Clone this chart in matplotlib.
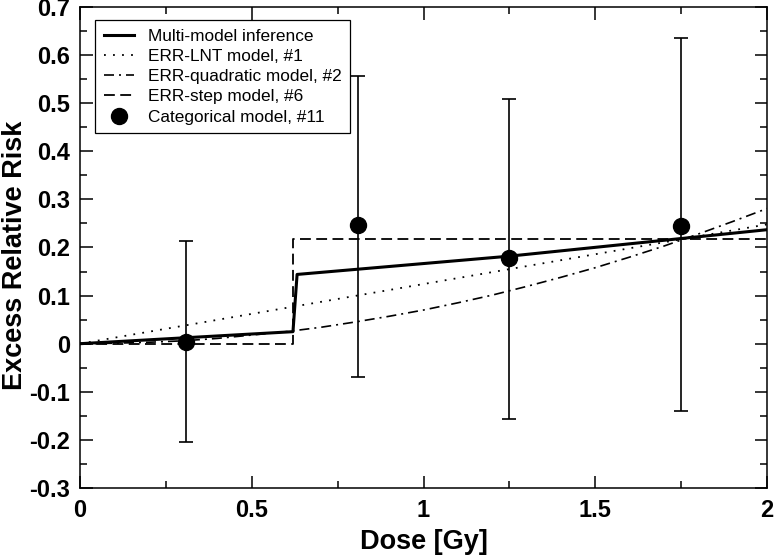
import numpy as np
import matplotlib
matplotlib.use("Agg")
import matplotlib.pyplot as plt
from matplotlib.ticker import MultipleLocator, FormatStrFormatter

plt.rcParams['font.family'] = ['Liberation Sans', 'DejaVu Sans']

# Multi-model inference (mit Sprung bei ~0.62 Gy)
mmi_dose = [0.0, 0.62, 0.632, 1.25, 2.0]
mmi_err = [0.0, 0.025, 0.144, 0.182, 0.237]

# ERR-LNT model, #1
lnt_dose = [0.0, 2.0]
lnt_err = [0.0, 0.248]

# ERR-quadratic model, #2
quad_dose = [0.0, 0.1, 0.2, 0.3, 0.4, 0.5, 0.6, 0.7, 0.8, 0.9, 1.0,
             1.1, 1.2, 1.3, 1.4, 1.5, 1.6, 1.7, 1.8, 1.9, 2.0]
quad_err = [0.0, 0.001, 0.003, 0.006, 0.011, 0.018, 0.025, 0.034, 0.045, 0.057, 0.070,
            0.085, 0.101, 0.119, 0.138, 0.158, 0.180, 0.203, 0.228, 0.254, 0.281]

# ERR-step model, #6
step_dose = [0.0, 0.62, 0.62, 2.0]
step_err = [0.0, 0.0, 0.217, 0.217]

# Categorical model, #11
cat_dose = [0.31, 0.81, 1.25, 1.75]
cat_err = [0.004, 0.246, 0.179, 0.244]
cat_low = [-0.204, -0.069, -0.156, -0.140]
cat_high = [0.213, 0.556, 0.508, 0.635]

fig = plt.figure(figsize=(7.74, 5.57), dpi=100)
ax = fig.add_axes([80/774, 1-488/557, 687/774, 481/557])

ax.plot(mmi_dose, mmi_err, color='black', lw=2.2, label='Multi-model inference')
ax.plot(lnt_dose, lnt_err, color='black', lw=1.3, linestyle=(0, (1, 4)), label='ERR-LNT model, #1')
ax.plot(quad_dose, quad_err, color='black', lw=1.2, linestyle=(0, (6, 3, 1.2, 3)),
        label='ERR-quadratic model, #2')
ax.plot(step_dose, step_err, color='black', lw=1.3, linestyle=(0, (6, 3)), label='ERR-step model, #6')

cat_err_arr = np.array(cat_err)
yerr = [cat_err_arr - np.array(cat_low), np.array(cat_high) - cat_err_arr]
ax.errorbar(cat_dose, cat_err, yerr=yerr, fmt='none', ecolor='black',
            elinewidth=1.2, capsize=5, capthick=1.2)
ax.plot(cat_dose, cat_err, 'o', color='black', ms=11.5, label='Categorical model, #11')

ax.set_xlim(0, 2)
ax.set_ylim(-0.3, 0.7)
ax.xaxis.set_major_locator(MultipleLocator(0.5))
ax.xaxis.set_minor_locator(MultipleLocator(0.25))
ax.yaxis.set_major_locator(MultipleLocator(0.1))
ax.yaxis.set_minor_locator(MultipleLocator(0.05))
ax.xaxis.set_major_formatter(FormatStrFormatter('%g'))
ax.yaxis.set_major_formatter(FormatStrFormatter('%g'))
ax.tick_params(which='both', direction='in', top=True, right=True, width=1.1)
ax.tick_params(which='major', length=9, labelsize=17)
ax.tick_params(axis='y', which='major', pad=7)
ax.tick_params(axis='x', which='major', pad=8)
ax.tick_params(which='minor', length=5)
for lab in ax.get_xticklabels() + ax.get_yticklabels():
    lab.set_fontweight('bold')
for sp in ax.spines.values():
    sp.set_linewidth(1.1)

ax.set_xlabel('Dose [Gy]', fontsize=19.5, fontweight='bold', labelpad=5)
ax.set_ylabel('Excess Relative Risk', fontsize=19.5, fontweight='bold')
ax.yaxis.set_label_coords((28 - 80) / 687, (488 - 255) / 481)

leg = ax.legend(loc='upper left', bbox_to_anchor=(15/687, 1-13/481), borderaxespad=0,
                fontsize=12.4, fancybox=False, framealpha=1, edgecolor='black',
                handlelength=1.75, labelspacing=0.3, borderpad=0.5, handletextpad=0.8)
leg.get_frame().set_linewidth(0.9)

fig.savefig('out.png', dpi=100)
